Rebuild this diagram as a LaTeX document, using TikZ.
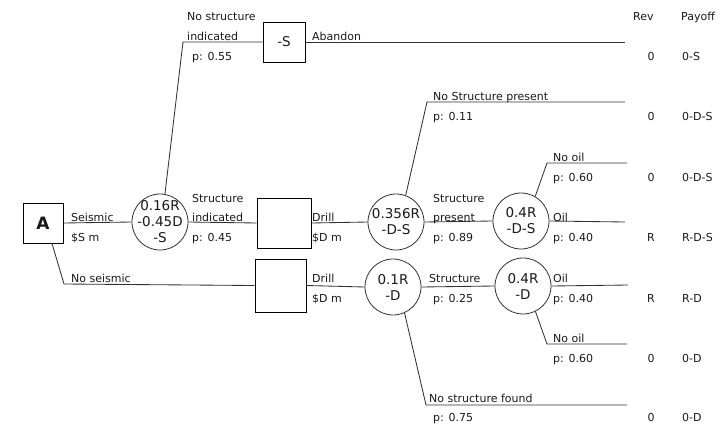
\documentclass[tikz,border=0pt]{standalone}
\usepackage{fontspec}
\setmainfont{DejaVu Sans}
\definecolor{txt}{RGB}{25,25,25}
\definecolor{lnc}{RGB}{50,50,50}
\begin{document}
\begin{tikzpicture}[x=1pt,y=-1pt,
  lbl/.style={font=\fontsize{11}{13}\selectfont, text=txt, inner sep=0pt, anchor=base west},
  val/.style={font=\fontsize{11}{13}\selectfont, text=txt, inner sep=0pt, anchor=base},
  ln/.style={draw=lnc, line width=0.85pt},
  dbox/.style={draw=black, line width=1pt, rectangle, inner sep=0pt, text=txt},
  chance/.style={circle, draw=lnc, line width=0.8pt, minimum size=56pt, inner sep=-5pt, align=center, text=txt, font=\fontsize{13.5}{16}\selectfont}]
\useasboundingbox (0,0) rectangle (723,439);
% decision and chance nodes
\node[dbox, minimum width=40pt, minimum height=40pt, font=\bfseries\fontsize{17}{17}\selectfont] (A) at (43,223) {A};
\node[chance] (c1) at (160,222) {0.16R\\-0.45D\\-S};
\node[dbox, minimum width=42pt, minimum height=40pt, font=\fontsize{13.5}{14}\selectfont] (bS) at (284,42) {-S};
\node[dbox, minimum width=54pt, minimum height=50pt] (b2) at (284,223) {};
\node[dbox, minimum width=51pt, minimum height=53pt] (b3) at (280.5,285.5) {};
\node[chance] (c2) at (396,222) {0.356R\\-D-S};
\node[chance] (c3) at (521,221) {0.4R\\-D-S};
\node[chance] (c4) at (393,287) {0.1R\\-D};
\node[chance] (c5) at (523,286) {0.4R\\-D};
% free ends
\coordinate (p1) at (183,42);
\coordinate (e1) at (625,42);
\coordinate (p2) at (427,102);
\coordinate (e2) at (625,102);
\coordinate (p3) at (547,163);
\coordinate (e3) at (627,163);
\coordinate (e4) at (625,222);
\coordinate (e5) at (628,285);
\coordinate (p6) at (547,344);
\coordinate (e6) at (627,344);
\coordinate (p7) at (426,405);
\coordinate (e7) at (627,405);
\coordinate (p8) at (64,284);
% connectors
\draw[ln] (A.east) -- (c1.west);
\draw[ln] (c1.80) -- (p1) -- (bS.west);
\draw[ln] (bS.east) -- (e1);
\draw[ln] (c1.east) -- (b2.west);
\draw[ln] (b2.east) -- (c2.west);
\draw[ln] (c2.70) -- (p2) -- (e2);
\draw[ln] (c2.east) -- (c3.west);
\draw[ln] (c3.60) -- (p3) -- (e3);
\draw[ln] (c3.east) -- (e4);
\draw[ln] ([xshift=9pt]A.south) -- (p8) -- (b3.west);
\draw[ln] (b3.east) -- (c4.west);
\draw[ln] (c4.east) -- (c5.west);
\draw[ln] (c5.east) -- (e5);
\draw[ln] (c5.-64) -- (p6) -- (e6);
\draw[ln] (c4.-66) -- (p7) -- (e7);
% branch labels
\node[lbl] (t1) at (187,20) {No structure};
\node[lbl] (t2) at (187,40) {indicated};
\node[lbl] (t3) at (192,60) {p: 0.55};
\node[lbl] (t4) at (312,40) {Abandon};
\node[lbl] (t5) at (71,221) {Seismic};
\node[lbl] (t6) at (71,241) {\$S m};
\node[lbl] (t7) at (71,282) {No seismic};
\node[lbl] (t8) at (192,202) {Structure};
\node[lbl] (t9) at (192,221) {indicated};
\node[lbl] (t10) at (192,241) {p: 0.45};
\node[lbl] (t11) at (312,221) {Drill};
\node[lbl] (t12) at (312,241) {\$D m};
\node[lbl] (t13) at (433,100) {No Structure present};
\node[lbl] (t14) at (433,120) {p: 0.11};
\node[lbl] (t15) at (433,202) {Structure};
\node[lbl] (t16) at (433,221) {present};
\node[lbl] (t17) at (433,241) {p: 0.89};
\node[lbl] (t18) at (553,161) {No oil};
\node[lbl] (t19) at (553,181) {p: 0.60};
\node[lbl] (t20) at (553,221) {Oil};
\node[lbl] (t21) at (553,241) {p: 0.40};
\node[lbl] (t22) at (312,282) {Drill};
\node[lbl] (t23) at (312,302) {\$D m};
\node[lbl] (t24) at (429,282) {Structure};
\node[lbl] (t25) at (433,302) {p: 0.25};
\node[lbl] (t26) at (553,282) {Oil};
\node[lbl] (t27) at (553,302) {p: 0.40};
\node[lbl] (t28) at (553,342) {No oil};
\node[lbl] (t29) at (553,362) {p: 0.60};
\node[lbl] (t30) at (429,402) {No structure found};
\node[lbl] (t31) at (433,421) {p: 0.75};
% table
\node[lbl] (h1) at (633,20) {Rev};
\node[lbl] (h2) at (681,20) {Payoff};
\node[val] (r1) at (651,60) {0};   \node[lbl] (y1) at (682,60) {0-S};
\node[val] (r2) at (651,120) {0};  \node[lbl] (y2) at (682,120) {0-D-S};
\node[val] (r3) at (651,181) {0};  \node[lbl] (y3) at (682,181) {0-D-S};
\node[val] (r4) at (651,241) {R};  \node[lbl] (y4) at (682,241) {R-D-S};
\node[val] (r5) at (651,302) {R};  \node[lbl] (y5) at (682,302) {R-D};
\node[val] (r6) at (651,362) {0};  \node[lbl] (y6) at (682,362) {0-D};
\node[val] (r7) at (651,421) {0};  \node[lbl] (y7) at (682,421) {0-D};
\end{tikzpicture}
\end{document}
